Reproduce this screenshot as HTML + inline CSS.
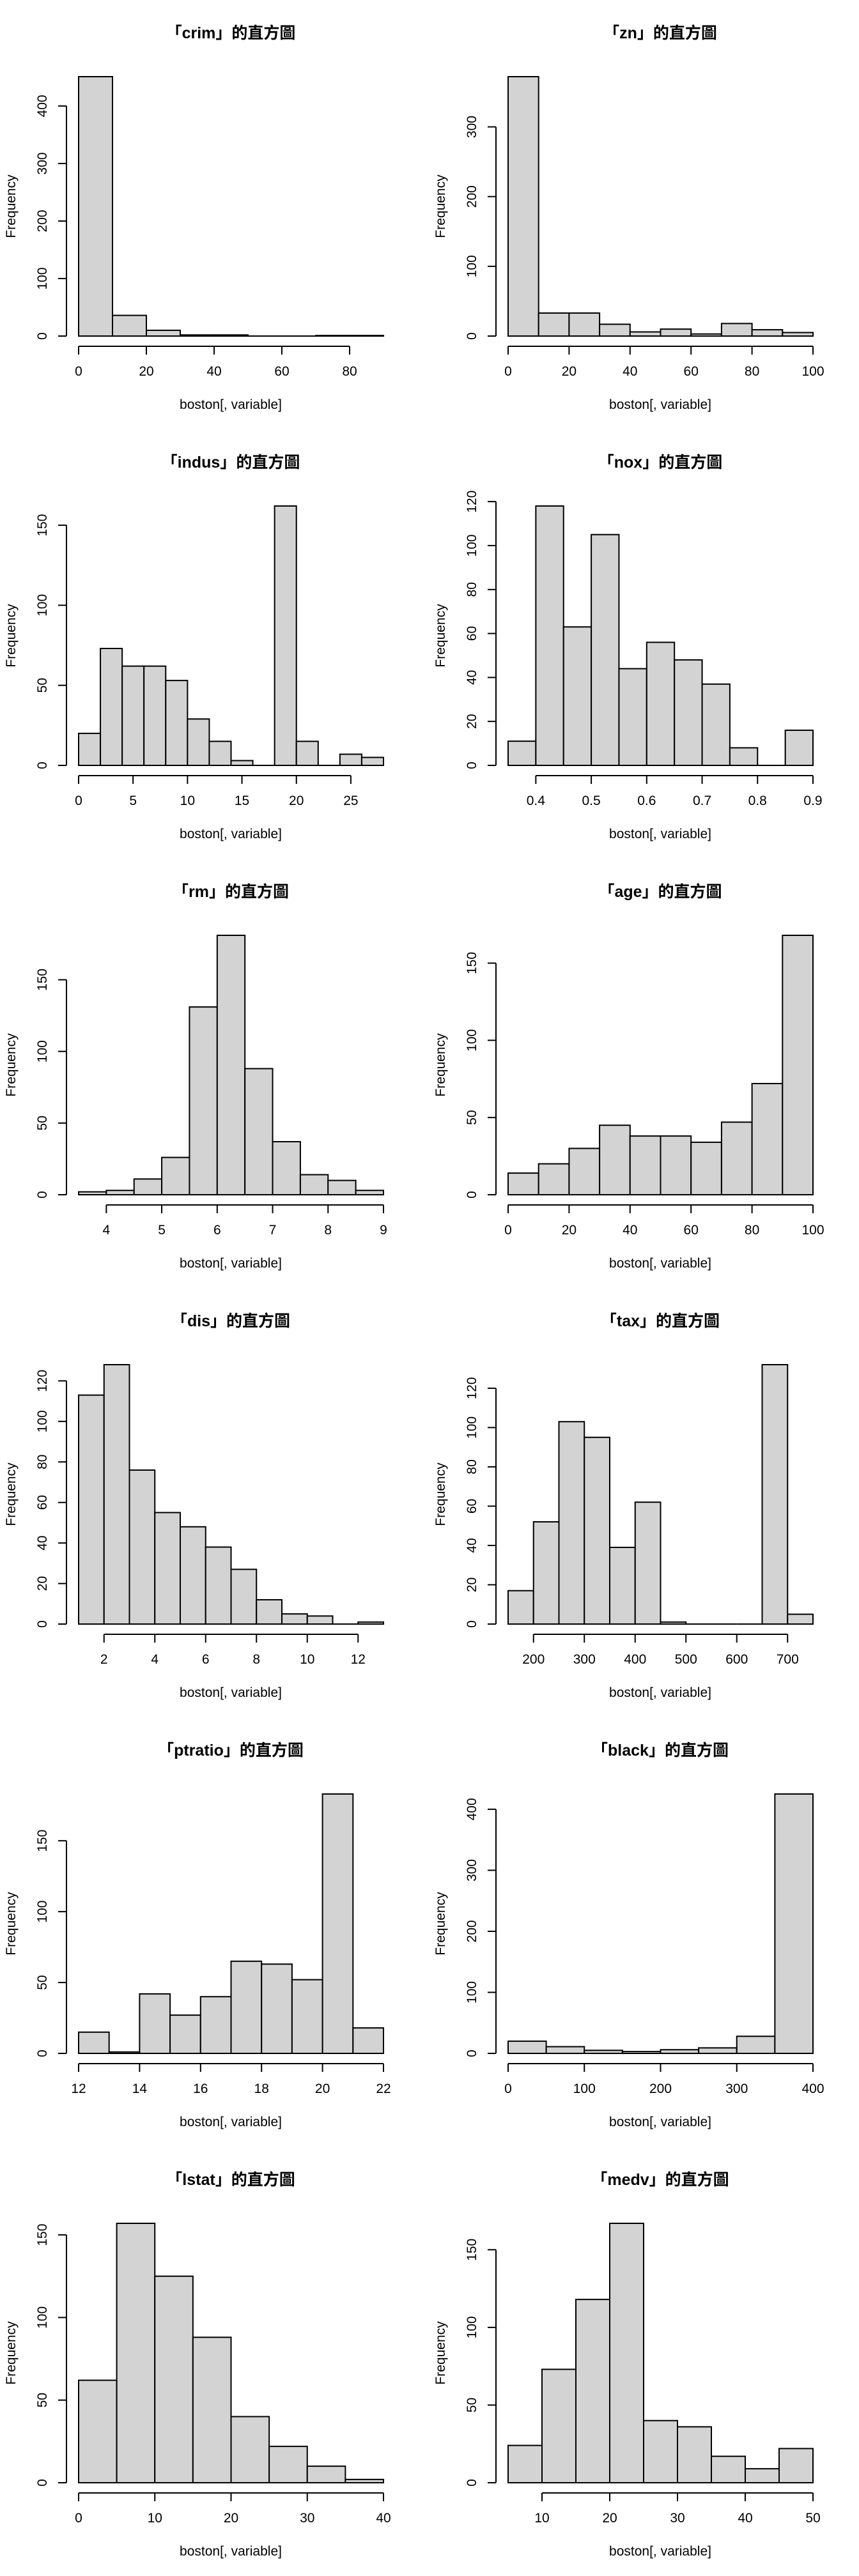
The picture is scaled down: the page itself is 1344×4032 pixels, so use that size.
<!DOCTYPE html>
<html><head><meta charset="utf-8">
<style>
html,body{margin:0;padding:0;background:#fff;}
svg{display:block;}
text{font-family:"Liberation Sans","Noto Sans CJK TC",sans-serif;fill:#000;}
</style></head>
<body>
<svg id="root" width="1344" height="4032" viewBox="0 0 1344 4032" xmlns="http://www.w3.org/2000/svg"></svg>
<script>
// Data arrays (bin start, bin width, counts, ticks)
const names = ["crim","zn","indus","nox","rm","age","dis","tax","ptratio","black","lstat","medv"];
const binStart = [0,0,0,0.35,3.5,0,1,150,12,0,0,5];
const binWidth = [10,10,2,0.05,0.5,10,1,50,1,50,5,5];
const crimCounts = [451,36,10,2,2,0,0,1,1];
const znCounts = [372,33,33,17,6,10,3,18,9,5];
const indusCounts = [20,73,62,62,53,29,15,3,0,162,15,0,7,5];
const noxCounts = [11,118,63,105,44,56,48,37,8,0,16];
const rmCounts = [2,3,11,26,131,181,88,37,14,10,3];
const ageCounts = [14,20,30,45,38,38,34,47,72,168];
const disCounts = [113,128,76,55,48,38,27,12,5,4,0,1];
const taxCounts = [17,52,103,95,39,62,1,0,0,0,132,5];
const ptratioCounts = [15,1,42,27,40,65,63,52,183,18];
const blackCounts = [20,11,5,3,6,9,28,425];
const lstatCounts = [62,157,125,88,40,22,10,2];
const medvCounts = [24,73,118,167,40,36,17,9,22];
const allCounts = [crimCounts,znCounts,indusCounts,noxCounts,rmCounts,ageCounts,disCounts,taxCounts,ptratioCounts,blackCounts,lstatCounts,medvCounts];
const xTickLabels = [
 ["0","20","40","60","80"],
 ["0","20","40","60","80","100"],
 ["0","5","10","15","20","25"],
 ["0.4","0.5","0.6","0.7","0.8","0.9"],
 ["4","5","6","7","8","9"],
 ["0","20","40","60","80","100"],
 ["2","4","6","8","10","12"],
 ["200","300","400","500","600","700"],
 ["12","14","16","18","20","22"],
 ["0","100","200","300","400"],
 ["0","10","20","30","40"],
 ["10","20","30","40","50"]];
const yTickLabels = [
 ["0","100","200","300","400"],
 ["0","100","200","300"],
 ["0","50","100","150"],
 ["0","20","40","60","80","100","120"],
 ["0","50","100","150"],
 ["0","50","100","150"],
 ["0","20","40","60","80","100","120"],
 ["0","20","40","60","80","100","120"],
 ["0","50","100","150"],
 ["0","100","200","300","400"],
 ["0","50","100","150"],
 ["0","50","100","150"]];

const NS="http://www.w3.org/2000/svg";
const root=document.getElementById('root');
function mk(tag,attrs,parent){const e=document.createElementNS(NS,tag);for(const k in attrs)e.setAttribute(k,attrs[k]);parent.appendChild(e);return e;}

const PX0=123, PX1=600, PY0=526, PYMAX=120;
names.forEach((nm,i)=>{
  const col=i%2,row=Math.floor(i/2);
  const g=mk('g',{transform:`translate(${col*672},${row*672})`},root);
  
  
  const counts=allCounts[i], b0=binStart[i], w=binWidth[i];
  const b1=b0+w*counts.length;
  const maxC=Math.max(...counts);
  const sx=v=>PX0+(v-b0)/(b1-b0)*(PX1-PX0);
  const sy=v=>PY0-v/maxC*(PY0-PYMAX);
  const t=mk('text',{x:361,y:60,'text-anchor':'middle','font-size':25,'font-weight':'bold'},g);
  t.textContent='「'+nm+'」的直方圖';
  
  
  counts.forEach((c,k)=>{
    const x=sx(b0+k*w), x2=sx(b0+(k+1)*w), y=sy(c);
    const r=mk('path',{d:`M${x},${PY0}L${x},${y}L${x2},${y}L${x2},${PY0}Z`,fill:'#d3d3d3',stroke:'#000','stroke-width':2},g);
    
    
  });
  const xt=xTickLabels[i].map(Number);
  const xa=mk('g',{},g);
  
  
  mk('line',{x1:sx(xt[0]),x2:sx(xt[xt.length-1]),y1:542,y2:542,stroke:'#000','stroke-width':2},xa);
  xt.forEach((v,k)=>{
    mk('line',{x1:sx(v),x2:sx(v),y1:542,y2:555,stroke:'#000','stroke-width':2},xa);
    const tl=mk('text',{x:sx(v),y:588,'text-anchor':'middle','font-size':21},xa);
    tl.textContent=xTickLabels[i][k];
    
    
  });
  const yt=yTickLabels[i].map(Number);
  const ya=mk('g',{},g);
  
  
  mk('line',{x1:104,x2:104,y1:sy(yt[0]),y2:sy(yt[yt.length-1]),stroke:'#000','stroke-width':2},ya);
  yt.forEach((v,k)=>{
    mk('line',{x1:91,x2:104,y1:sy(v),y2:sy(v),stroke:'#000','stroke-width':2},ya);
    const tl=mk('text',{x:0,y:0,'text-anchor':'middle','font-size':21,transform:`translate(73,${sy(v)}) rotate(-90)`},ya);
    tl.textContent=yTickLabels[i][k];
    
    
  });
  const xl=mk('text',{x:361,y:640,'text-anchor':'middle','font-size':21},g);
  xl.textContent='boston[, variable]';
  
  
  const yl=mk('text',{x:0,y:0,'text-anchor':'middle','font-size':21,transform:'translate(24,323) rotate(-90)'},g);
  yl.textContent='Frequency';
  
  
});
</script>
</body></html>
